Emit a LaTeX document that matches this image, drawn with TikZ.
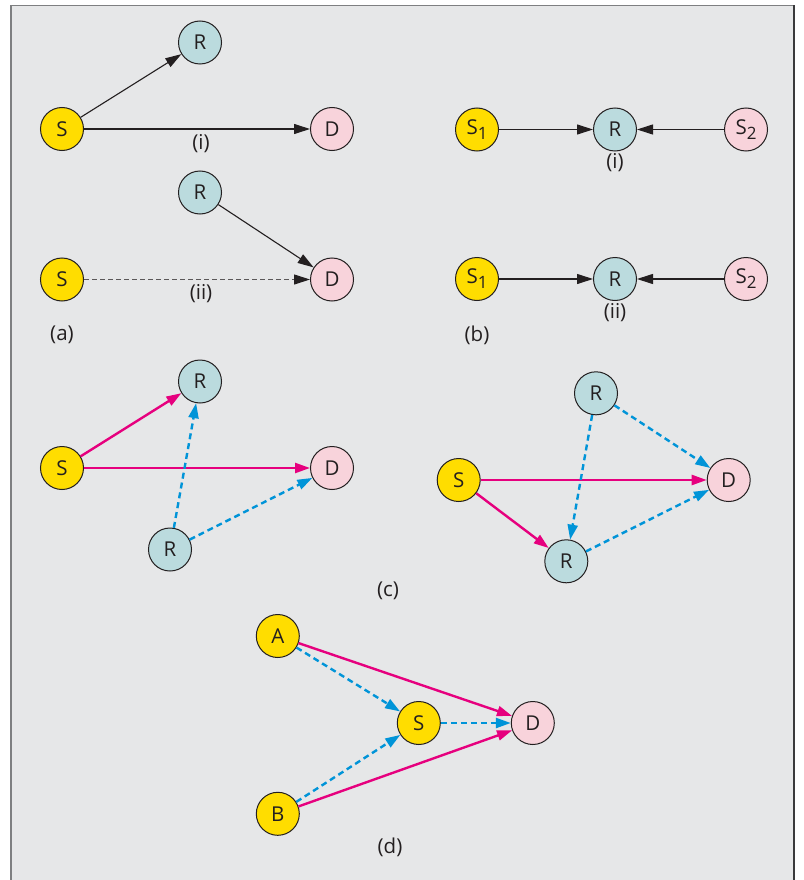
\documentclass[tikz,border=0pt]{standalone}
\usepackage{fontspec}
\setmainfont{Open Sans}
\usetikzlibrary{arrows.meta}
\definecolor{panelbg}{HTML}{E6E7E8}
\definecolor{framegrey}{HTML}{7E7F81}
\definecolor{framedark}{HTML}{3A3A3C}
\definecolor{inkdark}{HTML}{231F20}
\definecolor{srcyellow}{HTML}{FFDD00}
\definecolor{relayteal}{HTML}{BBDBDE}
\definecolor{dstpink}{HTML}{F8D3DB}
\definecolor{linkmagenta}{HTML}{E6007E}
\definecolor{linkblue}{HTML}{0094D8}
\newcommand{\subidx}[1]{\raisebox{-5pt}{\fontsize{17}{17}\selectfont #1}}
\tikzset{
  station/.style={circle, minimum size=43pt, inner sep=0pt, draw=inkdark, line width=1pt, text=inkdark},
  srcnode/.style={station, fill=srcyellow},
  relaynode/.style={station, fill=relayteal},
  dstnode/.style={station, fill=dstpink},
  caption/.style={text=inkdark, inner sep=0pt},
  plainlink/.style={draw=inkdark, line width=1.1pt, -{Triangle[length=16pt,width=10pt]}},
  weaklink/.style={draw=inkdark!75, line width=1.1pt, dash pattern=on 5pt off 3pt, -{Triangle[length=16pt,width=10pt,color=inkdark]}},
  directlink/.style={draw=linkmagenta, line width=2.4pt, -{Triangle[length=15pt,width=10pt]}},
  relaylink/.style={draw=linkblue, line width=2.4pt, dash pattern=on 6pt off 4pt, -{Triangle[length=15pt,width=10pt]}}
}
\begin{document}
\begin{tikzpicture}[x=1pt, y=-1pt, font=\fontsize{20.5}{24}\selectfont]
\useasboundingbox (0,0) rectangle (803,880);
% panel frame
\fill[panelbg] (11,5.5) rectangle (794,880);
\draw[framegrey, line width=1.6pt] (11,880) -- (11,5.5) -- (794,5.5);
\draw[framedark, line width=1.8pt] (794,5.5) -- (794,880);

% (a)(i)
\node[srcnode]   (a1S) at (62,129)  {S};
\node[relaynode] (a1R) at (200,42.5) {R};
\node[dstnode]   (a1D) at (332,129) {D};
\draw[plainlink] (a1S) -- (a1R);
\draw[plainlink] (a1S) -- (a1D);
\node[caption] (a1cap) at (201,143.5) {(i)};

% (a)(ii)
\node[srcnode]   (a2S) at (62,279.5) {S};
\node[relaynode] (a2R) at (200,192.5) {R};
\node[dstnode]   (a2D) at (332,279.5) {D};
\draw[plainlink] (a2R) -- (a2D);
\draw[weaklink] (a2S) -- (a2D);
\node[caption] (a2cap) at (201,294) {(ii)};
\node[caption] (acap) at (62,335) {(a)};

% (b)(i)
\node[srcnode]   (b1S1) at (477,129.5) {S\subidx{1}};
\node[relaynode] (b1R)  at (615,129.5) {R};
\node[dstnode]   (b1S2) at (746,129.5) {S\subidx{2}};
\draw[plainlink] (b1S1) -- (b1R);
\draw[plainlink] (b1S2) -- (b1R);
\node[caption] (b1cap) at (615,163) {(i)};

% (b)(ii)
\node[srcnode]   (b2S1) at (477,279) {S\subidx{1}};
\node[relaynode] (b2R)  at (615,279) {R};
\node[dstnode]   (b2S2) at (746,279) {S\subidx{2}};
\draw[plainlink] (b2S1) -- (b2R);
\draw[plainlink] (b2S2) -- (b2R);
\node[caption] (b2cap) at (615,313) {(ii)};
\node[caption] (bcap) at (477,335) {(b)};

% (c) left
\node[srcnode]   (c1S)  at (62,468)  {S};
\node[relaynode] (c1Rt) at (200,381.5) {R};
\node[dstnode]   (c1D)  at (332,468) {D};
\node[relaynode] (c1Rb) at (170,549.5) {R};
\draw[directlink] (c1S) -- (c1Rt);
\draw[directlink] (c1S) -- (c1D);
\draw[relaylink] (c1Rb) -- (c1Rt);
\draw[relaylink] (c1Rb) -- (c1D);

% (c) right
\node[srcnode]   (c2S)  at (458.7,480) {S};
\node[relaynode] (c2Rt) at (596,393.3) {R};
\node[dstnode]   (c2D)  at (728.7,480) {D};
\node[relaynode] (c2Rb) at (566.3,561.3) {R};
\draw[directlink] (c2S) -- (c2D);
\draw[directlink] (c2S) -- (c2Rb);
\draw[relaylink] (c2Rt) -- (c2D);
\draw[relaylink] (c2Rt) -- (c2Rb);
\draw[relaylink] (c2Rb) -- (c2D);
\node[caption] (ccap) at (388,591) {(c)};

% (d)
\node[srcnode] (dA) at (277.8,636)   {A};
\node[srcnode] (dS) at (418.8,723)   {S};
\node[dstnode] (dD) at (532.8,723)   {D};
\node[srcnode] (dB) at (277.8,813.8) {B};
\draw[directlink] (dA) -- (dD);
\draw[directlink] (dB) -- (dD);
\draw[relaylink] (dA) -- (dS);
\draw[relaylink] (dB) -- (dS);
\draw[relaylink] (dS) -- (dD);
\node[caption] (dcap) at (390,847) {(d)};
\end{tikzpicture}
\end{document}
